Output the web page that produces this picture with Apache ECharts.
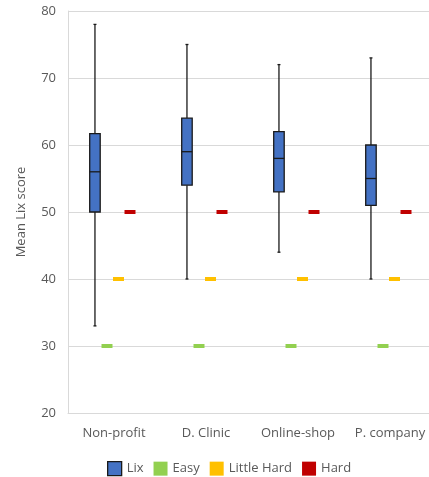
<!DOCTYPE html>
<html>
<head>
<meta charset="utf-8">
<script src="https://cdn.jsdelivr.net/npm/echarts@6/dist/echarts.min.js"></script>
<style>
  html, body { margin: 0; padding: 0; background: #fff; }
  #chart { width: 429px; height: 477px; }
</style>
</head>
<body>
<div id="chart"></div>
<script>
const categories = ["Non-profit", "D. Clinic", "Online-shop", "P. company"];
const lixMin = [33, 40, 44, 40];
const lixQ1 = [50, 54, 53, 51];
const lixMedian = [56, 59, 58, 55];
const lixQ3 = [61.7, 64, 62, 60];
const lixMax = [78, 75, 72, 73];
const easy = [30, 30, 30, 30];
const littleHard = [40, 40, 40, 40];
const hard = [50, 50, 50, 50];

const textColor = "#595959";
const font = "'Open Sans', sans-serif";

// box data as [index, min, q1, median, q3, max]
const boxData = categories.map((c, i) => [i, lixMin[i], lixQ1[i], lixMedian[i], lixQ3[i], lixMax[i]]);

function renderBox(params, api) {
  const band = api.size([1, 0])[0];
  const off = -0.207 * band;
  const idx = api.value(0);
  const pMin = api.coord([idx, api.value(1)]);
  const pQ1 = api.coord([idx, api.value(2)]);
  const pMed = api.coord([idx, api.value(3)]);
  const pQ3 = api.coord([idx, api.value(4)]);
  const pMax = api.coord([idx, api.value(5)]);
  const x = pMed[0] + off;
  const w = 10.5;
  const line = { stroke: "#1a1a1a", lineWidth: 1.3 };
  return {
    type: "group",
    children: [
      { type: "line", shape: { x1: x, y1: pMax[1], x2: x, y2: pQ3[1] }, style: line },
      { type: "line", shape: { x1: x, y1: pQ1[1], x2: x, y2: pMin[1] }, style: line },
      { type: "line", shape: { x1: x - 1.5, y1: pMax[1], x2: x + 1.5, y2: pMax[1] }, style: line },
      { type: "line", shape: { x1: x - 1.5, y1: pMin[1], x2: x + 1.5, y2: pMin[1] }, style: line },
      {
        type: "rect",
        shape: { x: x - w / 2, y: pQ3[1], width: w, height: pQ1[1] - pQ3[1] },
        style: { fill: "#4472C4", stroke: "#1a1a1a", lineWidth: 1.3 }
      },
      { type: "line", shape: { x1: x - w / 2, y1: pMed[1], x2: x + w / 2, y2: pMed[1] }, style: line }
    ]
  };
}

function marker(name, values, color, offset) {
  return {
    name: name,
    type: "scatter",
    symbol: "rect",
    symbolSize: [11, 4],
    symbolOffset: [offset, 0],
    itemStyle: { color: color, opacity: 1 },
    data: values,
    z: 3
  };
}

const chart = echarts.init(document.getElementById("chart"));
chart.setOption({
  animation: false,
  grid: { left: 68, top: 11, width: 368, bottom: 64, outerBoundsMode: "none" },
  legend: {
    left: 102,
    top: 456,
    itemWidth: 14,
    itemHeight: 14,
    itemGap: 10,
    textStyle: { color: textColor, fontSize: 13, fontFamily: font },
    data: [
      { name: "Lix", icon: "rect", itemStyle: { color: "#4472C4", borderColor: "#1a1a1a", borderWidth: 1.3 } },
      { name: "Easy", icon: "rect", itemStyle: { color: "#92D050" } },
      { name: "Little Hard", icon: "rect", itemStyle: { color: "#FFC000" } },
      { name: "Hard", icon: "rect", itemStyle: { color: "#C00000" } }
    ]
  },
  xAxis: {
    type: "category",
    data: categories,
    axisLine: { lineStyle: { color: "#d9d9d9" } },
    axisTick: { show: false },
    axisLabel: { interval: 0, color: textColor, fontSize: 13, fontFamily: font, margin: 14 }
  },
  yAxis: {
    type: "value",
    min: 20,
    max: 80,
    interval: 10,
    name: "Mean Lix score",
    nameLocation: "middle",
    nameGap: 40,
    nameTextStyle: { color: textColor, fontSize: 13, fontFamily: font },
    axisLine: { show: true, lineStyle: { color: "#d9d9d9" } },
    axisTick: { show: false },
    axisLabel: { color: textColor, fontSize: 13, fontFamily: font, margin: 12 },
    splitLine: { lineStyle: { color: "#d9d9d9", width: 1 } }
  },
  series: [
    {
      name: "Lix",
      type: "custom",
      renderItem: renderBox,
      encode: { x: 0, y: [1, 2, 3, 4, 5] },
      data: boxData,
      z: 4
    },
    marker("Easy", easy, "#92D050", -7),
    marker("Little Hard", littleHard, "#FFC000", 4.5),
    marker("Hard", hard, "#C00000", 16)
  ]
});
</script>
</body>
</html>
